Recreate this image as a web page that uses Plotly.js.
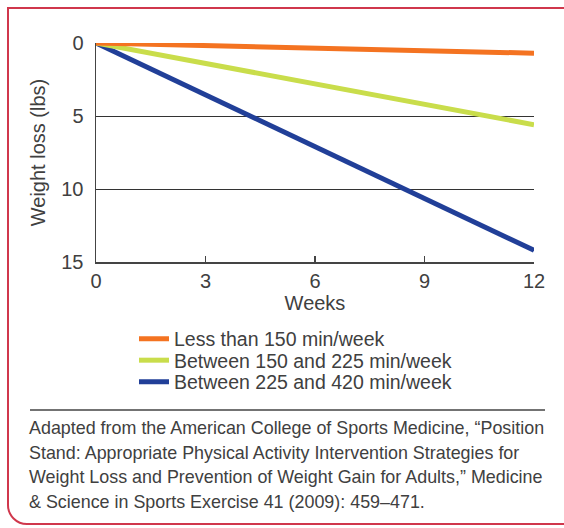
<!DOCTYPE html>
<html>
<head>
<meta charset="utf-8">
<script src="https://cdn.plot.ly/plotly-3.0.1.min.js"></script>
<style>
  html, body { margin: 0; padding: 0; background: #fff; }
  #wrap { position: relative; width: 564px; height: 528px; overflow: hidden; }
  #frame {
    position: absolute; left: 7px; top: 7px; width: 580px; height: 518px;
    border: 2px solid #d0374c; border-bottom-left-radius: 20px; border-bottom-right-radius: 20px;
    box-sizing: border-box;
  }
  #chart { position: absolute; left: 0; top: 0; width: 564px; height: 528px; }
</style>
</head>
<body>
<div id="wrap">
  <div id="frame"></div>
  <div id="chart"></div>
</div>
<script>
// Weeks of the programme
const weeks = [0, 12];
// Weight loss (lbs) by weekly activity level
const lossUnder150 = [0, 0.7];
const loss150to225 = [0, 5.6];
const loss225to420 = [0, 14.2];
const seriesNames = [
  'Less than 150 min/week',
  'Between 150 and 225 min/week',
  'Between 225 and 420 min/week'
];
const seriesColors = ['#f47321', '#c9dd4b', '#213f98'];
const xTicks = [0, 3, 6, 9, 12];
const yTicks = [0, 5, 10, 15];
const sourceLines = [
  'Adapted from the American College of Sports Medicine, \u201cPosition',
  'Stand: Appropriate Physical Activity Intervention Strategies for',
  'Weight Loss and Prevention of Weight Gain for Adults,\u201d Medicine',
  '&amp; Science in Sports Exercise 41 (2009): 459\u2013471.'
];

const FONT = 'Liberation Sans, Arial, sans-serif';
const TEXT = '#404040';
const legendKeys = ['legend', 'legend2', 'legend3'];
const series = [lossUnder150, loss150to225, loss225to420];
const traces = series.map((vals, i) => ({
  type: 'scatter', mode: 'lines', x: weeks, y: vals, name: seriesNames[i],
  line: { color: seriesColors[i], width: 5, shape: 'linear' },
  legend: legendKeys[i], cliponaxis: false
})).reverse();

const plotW = 564 - 96 - 30, plotH = 528 - 43 - 266;
const px2x = px => (px - 96) / plotW;
const px2y = py => (262 - py) / plotH;

// one legend box per row so the rows sit close together
const legendRowY = [339, 360.5, 382];
const legendBox = i => ({
  x: px2x(134), y: px2y(legendRowY[i]), xanchor: 'left', yanchor: 'middle',
  font: { family: FONT, size: 19.5, color: TEXT },
  bgcolor: 'rgba(0,0,0,0)', itemwidth: 30
});

const annotations = sourceLines.map((t, i) => ({
  xref: 'paper', yref: 'paper', x: px2x(27), y: px2y(428 + i * 24.5),
  xanchor: 'left', yanchor: 'middle', showarrow: false, align: 'left',
  text: t, font: { family: FONT, size: 17.9, color: TEXT }
}));

const layout = {
  width: 564, height: 528,
  margin: { l: 96, r: 30, t: 43, b: 266 },
  paper_bgcolor: 'rgba(0,0,0,0)', plot_bgcolor: 'rgba(0,0,0,0)',
  font: { family: FONT, color: TEXT, size: 20 },
  showlegend: true,
  legend: legendBox(0), legend2: legendBox(1), legend3: legendBox(2),
  xaxis: {
    range: [0, 12], tickvals: xTicks, ticktext: xTicks.map(String),
    showgrid: false, zeroline: false, showline: true, linecolor: '#444', linewidth: 1.5,
    ticks: 'inside', ticklen: 6, tickcolor: '#444', tickwidth: 1.5,
    tickfont: { family: FONT, size: 20, color: TEXT },
    title: { text: 'Weeks', font: { family: FONT, size: 20, color: TEXT }, standoff: 2 },
    fixedrange: true
  },
  yaxis: {
    range: [15, 0], tickvals: yTicks, ticktext: yTicks.map(String),
    showgrid: true, gridcolor: '#333', gridwidth: 1, zeroline: false,
    showline: true, linecolor: '#444', linewidth: 1.5, ticks: '',
    tickfont: { family: FONT, size: 20, color: TEXT }, ticklabelstandoff: 7,
    title: { text: 'Weight loss (lbs)', font: { family: FONT, size: 20, color: TEXT }, standoff: 10 },
    fixedrange: true
  },
  shapes: [{
    type: 'line', xref: 'paper', yref: 'paper',
    x0: px2x(30), x1: px2x(545), y0: px2y(410), y1: px2y(410),
    line: { color: '#444', width: 1.5 }
  }],
  annotations: annotations
};

Plotly.newPlot('chart', traces, layout, { displayModeBar: false, staticPlot: true });
</script>
</body>
</html>
